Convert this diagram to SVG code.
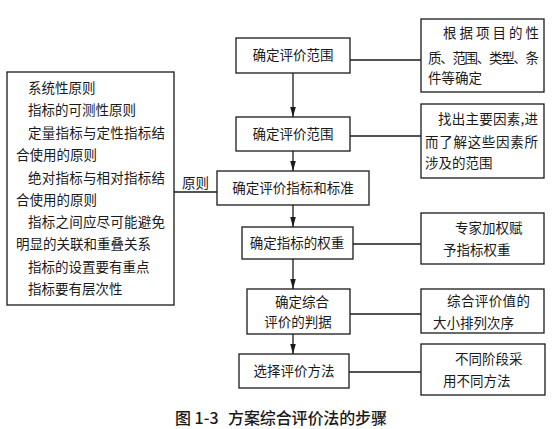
<svg xmlns="http://www.w3.org/2000/svg" width="553" height="429" viewBox="0 0 553 429">
<defs>
<marker id="arr" viewBox="0 0 10 10" refX="10" refY="5" markerWidth="10" markerHeight="10" markerUnits="userSpaceOnUse" orient="auto">
<path d="M0,2.2 L10,5 L0,7.8 Z" fill="#1a1a1a"/>
</marker>
</defs>
<style>
.box{fill:#fff;stroke:#1a1a1a;stroke-width:1.3}
.ln{stroke:#1a1a1a;stroke-width:1.3;fill:none}
text{font-family:"Noto Sans CJK SC","Noto Sans",sans-serif;font-size:13.5px;fill:#1a1a1a}
.c{text-anchor:middle}
.cap{font-size:16px;font-weight:500}
</style>
<rect width="553" height="429" fill="#fff"/>
<g id="connectors">
<line class="ln" x1="293" y1="73" x2="293" y2="117" marker-end="url(#arr)"/>
<line class="ln" x1="293" y1="151" x2="293" y2="171" marker-end="url(#arr)"/>
<line class="ln" x1="293" y1="205" x2="293" y2="227" marker-end="url(#arr)"/>
<line class="ln" x1="293" y1="259" x2="293" y2="289" marker-end="url(#arr)"/>
<line class="ln" x1="293" y1="334" x2="293" y2="354" marker-end="url(#arr)"/>
<line class="ln" x1="350" y1="60" x2="421" y2="60"/>
<line class="ln" x1="350" y1="136" x2="421" y2="136"/>
<line class="ln" x1="353" y1="244" x2="421" y2="244"/>
<line class="ln" x1="350" y1="314" x2="421" y2="314"/>
<line class="ln" x1="349" y1="372" x2="421" y2="372"/>
<line class="ln" x1="174" y1="192" x2="217" y2="192"/>
<text x="182" y="188">原则</text>
</g>
<g id="principles">
<rect class="box" x="7" y="72" width="167" height="233"/>
<text x="28" y="93">系统性原则</text>
<text x="28" y="115">指标的可测性原则</text>
<text x="28" y="138" textLength="137">定量指标与定性指标结</text>
<text x="16" y="160">合使用的原则</text>
<text x="28" y="183" textLength="137">绝对指标与相对指标结</text>
<text x="16" y="205">合使用的原则</text>
<text x="28" y="227" textLength="137">指标之间应尽可能避免</text>
<text x="16" y="249">明显的关联和重叠关系</text>
<text x="28" y="272">指标的设置要有重点</text>
<text x="28" y="294">指标要有层次性</text>
</g>
<g id="step1">
<rect class="box" x="236" y="38" width="114" height="35"/>
<text class="c" x="293" y="60">确定评价范围</text>
</g>
<g id="step2">
<rect class="box" x="236" y="117" width="114" height="34"/>
<text class="c" x="293" y="139">确定评价范围</text>
</g>
<g id="step3">
<rect class="box" x="217" y="171" width="152" height="34"/>
<text class="c" x="293" y="193">确定评价指标和标准</text>
</g>
<g id="step4">
<rect class="box" x="242" y="227" width="111" height="32"/>
<text class="c" x="297" y="248">确定指标的权重</text>
</g>
<g id="step5">
<rect class="box" x="247" y="289" width="103" height="45"/>
<text class="c" x="302" y="307">确定综合</text>
<text class="c" x="298" y="327">评价的判据</text>
</g>
<g id="step6">
<rect class="box" x="239" y="354" width="110" height="34"/>
<text class="c" x="294" y="376">选择评价方法</text>
</g>
<g id="note1">
<rect class="box" x="421" y="19" width="123" height="73"/>
<text x="443" y="38" textLength="96">根据项目的性</text>
<text x="428" y="63" textLength="111">质、范围、类型、条</text>
<text x="428" y="83">件等确定</text>
</g>
<g id="note2">
<rect class="box" x="421" y="104" width="123" height="74"/>
<text x="438" y="124" textLength="100">找出主要因素,进</text>
<text x="425" y="147" textLength="113">而了解这些因素所</text>
<text x="425" y="168">涉及的范围</text>
</g>
<g id="note3">
<rect class="box" x="421" y="213" width="123" height="51"/>
<text x="455" y="233">专家加权赋</text>
<text x="443" y="255">予指标权重</text>
</g>
<g id="note4">
<rect class="box" x="421" y="289" width="123" height="44"/>
<text x="447" y="306" textLength="83">综合评价值的</text>
<text x="433" y="328">大小排列次序</text>
</g>
<g id="note5">
<rect class="box" x="421" y="344" width="124" height="51"/>
<text x="455" y="364">不同阶段采</text>
<text x="443" y="386">用不同方法</text>
</g>
<g id="caption">
<text class="cap" x="175" y="424">图 1-3</text>
<text class="cap" x="228" y="424" textLength="159">方案综合评价法的步骤</text>
</g>
</svg>
